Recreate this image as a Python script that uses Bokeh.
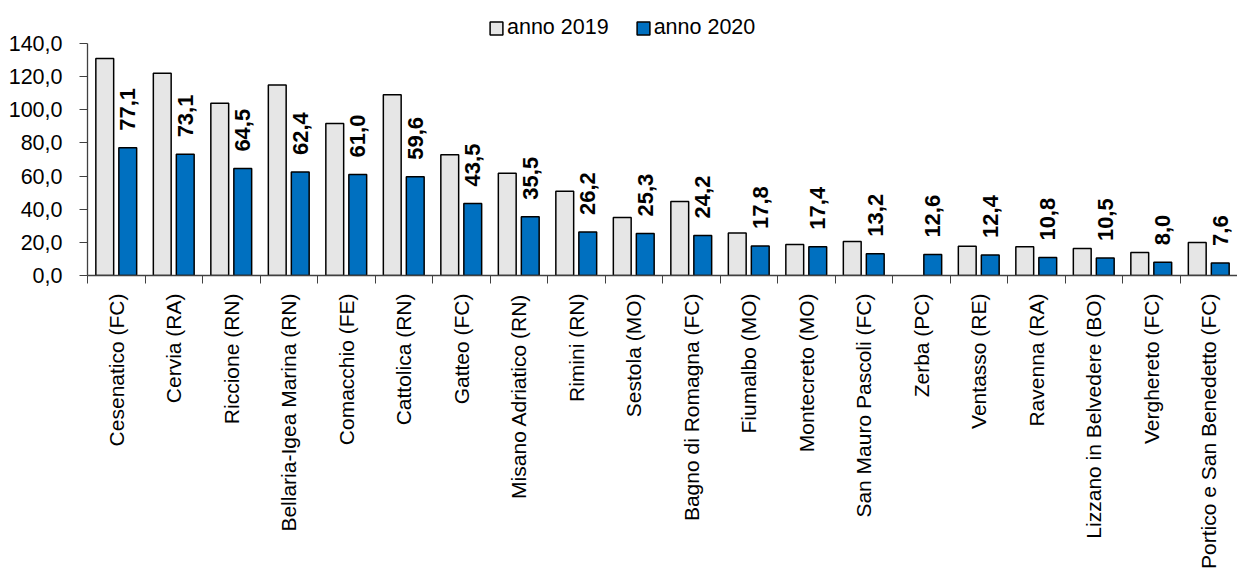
import numpy as np
from bokeh.plotting import figure
from bokeh.models import (ColumnDataSource, Range1d, FixedTicker, LinearAxis,
                          Legend, LegendItem, LabelSet)
from bokeh.transform import dodge
from bokeh.core.properties import value
from bokeh.embed import file_html
from bokeh.resources import INLINE

# ---------------- data ----------------
comuni = ["Cesenatico (FC)", "Cervia (RA)", "Riccione (RN)", "Bellaria-Igea Marina (RN)",
          "Comacchio (FE)", "Cattolica (RN)", "Gatteo (FC)", "Misano Adriatico (RN)",
          "Rimini (RN)", "Sestola (MO)", "Bagno di Romagna (FC)", "Fiumalbo (MO)",
          "Montecreto (MO)", "San Mauro Pascoli (FC)", "Zerba (PC)", "Ventasso (RE)",
          "Ravenna (RA)", "Lizzano in Belvedere (BO)", "Verghereto (FC)",
          "Portico e San Benedetto (FC)"]
anno_2019 = [131.0, 122.0, 104.0, 115.0, 91.7, 109.0, 72.8, 61.7, 50.9, 35.0,
             44.7, 25.7, 18.7, 20.5, float("nan"), 17.7, 17.3, 16.3, 13.9, 19.9]
anno_2020 = [77.1, 73.1, 64.5, 62.4, 61.0, 59.6, 43.5, 35.5, 26.2, 25.3,
             24.2, 17.8, 17.4, 13.2, 12.6, 12.4, 10.8, 10.5, 8.0, 7.6]
y_ticks = [0, 20, 40, 60, 80, 100, 120, 140]

FONT = "Liberation Sans"
n = len(comuni)
xc = np.arange(n) + 0.5

src = ColumnDataSource(dict(
    xc=xc, v19=anno_2019, v20=anno_2020,
    lab=[f"{v:.1f}".replace(".", ",") for v in anno_2020],
))

# frame reaches the top so the legend (above the axis) is not clipped;
# axis line is bounded to 0..140 as in the reference
FRAME_H = 275
AXIS_H = 232
y_top = y_ticks[-1] * FRAME_H / AXIS_H

p = figure(frame_width=1150, frame_height=FRAME_H, output_backend="svg",
           toolbar_location=None, x_range=Range1d(0, n), y_range=Range1d(0, y_top),
           x_axis_type=None, y_axis_type=None,
           min_border_left=87, min_border_right=0, min_border_top=0, min_border_bottom=0)
p.outline_line_color = None
p.xgrid.visible = False
p.ygrid.visible = False
p.background_fill_color = "white"

r19 = p.vbar(x=dodge("xc", -0.2), top="v19", width=0.31, source=src,
             fill_color="#e6e6e6", line_color="black", line_width=1.5)
r20 = p.vbar(x=dodge("xc", 0.2), top="v20", width=0.31, source=src,
             fill_color="#0070c0", line_color="black", line_width=1.5)

labels = LabelSet(x=dodge("xc", 0.2), y="v20", text="lab", source=src,
                  angle=np.pi / 2, text_align="left", text_baseline="middle",
                  y_offset=17, text_font=value(FONT), text_font_size=value("22px"),
                  text_font_style=value("bold"), text_color="black")
p.add_layout(labels)

# y axis
yax = LinearAxis(ticker=FixedTicker(ticks=y_ticks, minor_ticks=[]),
                 bounds=(y_ticks[0], y_ticks[-1]))
yax.major_label_overrides = {t: f"{t:.1f}".replace(".", ",") for t in y_ticks}
yax.major_label_text_font = FONT
yax.major_label_text_font_size = "21.5px"
yax.major_label_text_color = "black"
yax.major_tick_out = 8
yax.major_tick_in = 0
yax.major_label_standoff = 17
yax.axis_line_color = "#404040"
yax.major_tick_line_color = "#404040"
yax.axis_line_width = 1.3
p.add_layout(yax, "left")

# x axis (labels at centres, separators as minor ticks)
xax = LinearAxis(ticker=FixedTicker(ticks=list(xc), minor_ticks=list(range(n + 1))))
xax.major_label_overrides = {float(x): c for x, c in zip(xc, comuni)}
xax.major_label_orientation = np.pi / 2
xax.major_label_text_font = FONT
xax.major_label_text_font_size = "21px"
xax.major_label_text_color = "black"
xax.major_tick_out = 0
xax.major_tick_in = 0
xax.minor_tick_out = 8
xax.minor_tick_in = 0
xax.major_label_standoff = 10
xax.axis_line_color = "#404040"
xax.minor_tick_line_color = "#404040"
xax.axis_line_width = 1.3
p.add_layout(xax, "below")

legend = Legend(items=[LegendItem(label="anno 2019", renderers=[r19]),
                       LegendItem(label="anno 2020", renderers=[r20])],
                orientation="horizontal", location=(401, 235),
                label_text_font=FONT, label_text_font_size="21.5px",
                label_text_color="black", glyph_width=16, glyph_height=16,
                label_standoff=3, spacing=26, padding=0, margin=0,
                border_line_color=None, background_fill_alpha=0, label_height=16)
p.add_layout(legend, "center")

open("out.html", "w").write(file_html(p, INLINE))
